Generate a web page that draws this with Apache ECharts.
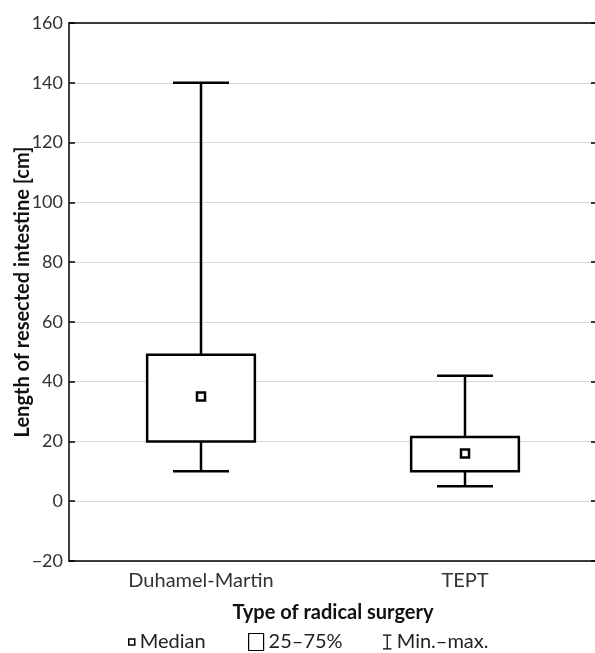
<!DOCTYPE html>
<html>
<head>
<meta charset="utf-8">
<script src="https://cdn.jsdelivr.net/npm/echarts@6/dist/echarts.min.js"></script>
<style>
  html, body { margin: 0; padding: 0; background: #fff; }
  #main-chart { width: 595px; height: 653px; }
</style>
</head>
<body>
<div id="main-chart"></div>
<script>
const categories = ['Duhamel-Martin', 'TEPT'];
const minValues = [10, 5];
const q1Values = [20, 10];
const medianValues = [35, 16];
const q3Values = [49, 21.5];
const maxValues = [140, 42];

document.addEventListener('DOMContentLoaded', () => {
    const chartContainer = document.getElementById('main-chart');
    const myChart = echarts.init(chartContainer);

    const font = 'Lato';
    const lineColor = '#000';

    const boxData = categories.map((c, i) => [i, minValues[i], q1Values[i], medianValues[i], q3Values[i], maxValues[i]]);
    const medianData = categories.map((c, i) => [i, medianValues[i]]);

    function renderWhisker(params, api) {
        const i = api.value(0);
        const band = api.size([1, 0])[0];
        const capHalf = band * 0.106;
        const pMin = api.coord([i, api.value(1)]);
        const pQ1 = api.coord([i, api.value(2)]);
        const pQ3 = api.coord([i, api.value(4)]);
        const pMax = api.coord([i, api.value(5)]);
        const style = { stroke: lineColor, lineWidth: 2.5, fill: null };
        return {
            type: 'group',
            children: [
                { type: 'line', shape: { x1: pMax[0], y1: pMax[1], x2: pQ3[0], y2: pQ3[1] }, style },
                { type: 'line', shape: { x1: pQ1[0], y1: pQ1[1], x2: pMin[0], y2: pMin[1] }, style },
                { type: 'line', shape: { x1: pMax[0] - capHalf, y1: pMax[1], x2: pMax[0] + capHalf, y2: pMax[1] }, style },
                { type: 'line', shape: { x1: pMin[0] - capHalf, y1: pMin[1], x2: pMin[0] + capHalf, y2: pMin[1] }, style }
            ]
        };
    }

    function renderBox(params, api) {
        const i = api.value(0);
        const band = api.size([1, 0])[0];
        const boxWidth = band * 0.408;
        const pQ1 = api.coord([i, api.value(2)]);
        const pQ3 = api.coord([i, api.value(4)]);
        return {
            type: 'rect',
            shape: { x: pQ3[0] - boxWidth / 2, y: pQ3[1], width: boxWidth, height: pQ1[1] - pQ3[1] },
            style: { stroke: lineColor, lineWidth: 2.5, fill: '#fff' }
        };
    }

    const legendText = { fontFamily: font, fontSize: 20, color: '#222' };

    const option = {
        animation: false,
        backgroundColor: '#fff',
        grid: { left: 69, top: 23, right: -2, bottom: 92, outerBoundsMode: 'none' },
        legend: [
            {
                left: 128, top: 632, padding: 0, itemWidth: 6, itemHeight: 6,
                selectedMode: false, textStyle: legendText,
                data: [{ name: 'Median', icon: 'rect', itemStyle: { color: '#fff', borderColor: '#000', borderWidth: 1.5 } }]
            },
            {
                left: 248, top: 632, padding: 0, itemWidth: 15, itemHeight: 17,
                selectedMode: false, textStyle: legendText,
                data: [{ name: '25–75%', icon: 'rect', itemStyle: { color: '#fff', borderColor: '#000', borderWidth: 1.2 } }]
            },
            {
                left: 383, top: 632, padding: 0, itemWidth: 9, itemHeight: 15,
                selectedMode: false, textStyle: legendText,
                data: [{
                    name: 'Min.–max.',
                    icon: 'path://M0,0H9V1.3H5.15V14.7H9V16H0V14.7H3.85V1.3H0Z',
                    itemStyle: { color: '#000', borderWidth: 0 }
                }]
            }
        ],
        xAxis: [
            {
                type: 'category',
                data: categories,
                position: 'bottom',
                name: 'Type of radical surgery',
                nameLocation: 'middle',
                nameGap: 42,
                nameMoveOverlap: false,
                nameTextStyle: { fontFamily: font, fontSize: 20, fontWeight: 'bold', color: '#111' },
                axisLine: { onZero: false, lineStyle: { color: lineColor, width: 1.5 } },
                axisTick: { inside: true, alignWithLabel: true, length: 6, lineStyle: { color: lineColor, width: 1.5 } },
                axisLabel: { fontFamily: font, fontSize: 20, color: '#333', margin: 10 },
                splitLine: { show: false }
            },
            {
                type: 'category',
                data: categories,
                position: 'top',
                axisLine: { onZero: false, lineStyle: { color: lineColor, width: 1.5 } },
                axisTick: { inside: true, alignWithLabel: true, length: 6, lineStyle: { color: lineColor, width: 1.5 } },
                axisLabel: { show: false },
                splitLine: { show: false }
            }
        ],
        yAxis: [
            {
                type: 'value',
                min: -20,
                max: 160,
                interval: 20,
                position: 'left',
                name: 'Length of resected intestine [cm]',
                nameLocation: 'middle',
                nameGap: 36,
                nameMoveOverlap: false,
                nameTextStyle: { fontFamily: font, fontSize: 20, fontWeight: 'bold', color: '#111' },
                axisLine: { show: true, onZero: false, lineStyle: { color: lineColor, width: 1.5 } },
                axisTick: { show: true, inside: true, length: 6, lineStyle: { color: lineColor, width: 1.5 } },
                axisLabel: {
                    fontFamily: font, fontSize: 18, color: '#333', margin: 6,
                    formatter: v => (v < 0 ? '\u2212' + Math.abs(v) : String(v))
                },
                splitLine: { show: true, lineStyle: { color: '#d9d9d9', width: 1 } }
            },
            {
                type: 'value',
                min: -20,
                max: 160,
                interval: 20,
                position: 'right',
                axisLine: { show: true, onZero: false, lineStyle: { color: lineColor, width: 1.5 } },
                axisTick: { show: true, inside: true, length: 6, lineStyle: { color: lineColor, width: 1.5 } },
                axisLabel: { show: false },
                splitLine: { show: false }
            }
        ],
        series: [
            {
                name: 'Min.–max.',
                type: 'custom',
                renderItem: renderWhisker,
                encode: { x: 0, y: [1, 2, 3, 4, 5] },
                data: boxData,
                z: 2
            },
            {
                name: '25–75%',
                type: 'custom',
                renderItem: renderBox,
                encode: { x: 0, y: [1, 2, 3, 4, 5] },
                data: boxData,
                z: 3
            },
            {
                name: 'Median',
                type: 'scatter',
                symbol: 'rect',
                symbolSize: 8,
                itemStyle: { color: '#fff', borderColor: '#000', borderWidth: 2.5, opacity: 1 },
                data: medianData,
                z: 4
            }
        ]
    };

    myChart.setOption(option);
});
</script>
</body>
</html>
